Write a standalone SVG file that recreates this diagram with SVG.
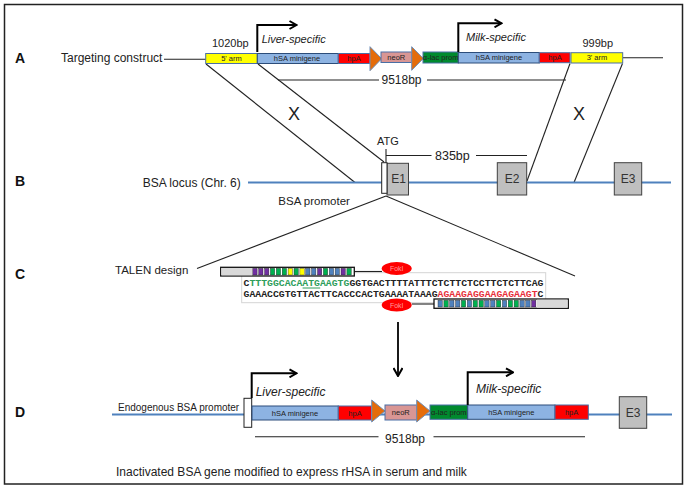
<svg xmlns="http://www.w3.org/2000/svg" width="686" height="490" viewBox="0 0 686 490">
<defs>
<marker id="chev" viewBox="0 0 10 10" refX="9" refY="5" markerWidth="10" markerHeight="10" markerUnits="userSpaceOnUse" orient="auto">
<path d="M2,1 L9,5 L2,9" fill="none" stroke="#000" stroke-width="2"/>
</marker>
<marker id="down" viewBox="0 0 10 10" refX="9" refY="5" markerWidth="10" markerHeight="10" markerUnits="userSpaceOnUse" orient="auto">
<path d="M1,0.5 L9,5 L1,9.5" fill="none" stroke="#000" stroke-width="2"/>
</marker>
<style>
text{font-family:"Liberation Sans",Arial,sans-serif;fill:#222}
.lab{font-size:14px;font-weight:bold;fill:#111}
.t12{font-size:12px}
.t11{font-size:11px}
.it{font-style:italic}
.bx{stroke:#4a6fa5;stroke-width:1}
.arm{fill:#ffff00}
.hsa{fill:#8db3e2;stroke:#2c4d7a}
.hpa{fill:#ff0000}
.neo{fill:#d99694}
.lac{fill:#008a2e}
.tri{fill:#e46c0a;stroke:#6f8fb8;stroke-width:1}
.bt{font-size:7.5px;text-anchor:middle}
.ex{fill:#bfbfbf;stroke:#404040;stroke-width:1}
.exl{font-size:12px;text-anchor:middle;fill:#333}
.locus{stroke:#4f81bd;stroke-width:2.2;fill:none}
.ln{stroke:#222;stroke-width:1.1;fill:none}
.prom{fill:#fff;stroke:#222;stroke-width:1}
.bend{stroke:#000;stroke-width:2;fill:none;marker-end:url(#chev)}
.seq{font-family:"Liberation Mono","Courier New",monospace;font-size:9.8px;font-weight:bold;fill:#222}
.fok{fill:#ff0000}
.fokt{font-size:7px;text-anchor:middle;fill:#ff9c9c}
.P{fill:#7030a0}.G{fill:#00b050}.Y{fill:#ffff00}.B{fill:#4f81bd}
.seg rect{stroke:#222;stroke-width:0.4}
</style>
</defs>
<rect x="4.5" y="4.5" width="678" height="479.5" fill="#fff" stroke="#222" stroke-width="1.5"/>

<!-- row labels -->
<g id="labels">
<text class="lab" x="15" y="62.5">A</text>
<text class="lab" x="15" y="186">B</text>
<text class="lab" x="15" y="279">C</text>
<text class="lab" x="15" y="417">D</text>
</g>

<!-- connectors -->
<g id="connectors">
<path class="ln" d="M164,59.3 H206"/>
<path class="ln" d="M623,57.7 H663"/>
<path class="ln" d="M206,64 L355,182.5"/>
<path class="ln" d="M258,64 L384,162"/>
<path class="ln" d="M570,63.5 L527,181"/>
<path class="ln" d="M622.5,63.5 L574,182.5"/>
<path class="ln" d="M278,80 H379 M427,80 H566"/>
<path class="ln" d="M386,155.5 H431.5 M476,155.5 H527"/>
<path class="ln" d="M386,149 V163"/>
<path class="ln" d="M386,196 L197,268.5"/>
<path class="ln" d="M386,196 L575,276"/>
<path class="ln" d="M255,436.7 H378.5 M433.5,436.7 H585"/>
<path d="M398,322 V376" stroke="#000" stroke-width="1.8" fill="none" marker-end="url(#down)"/>
</g>

<!-- Row A: targeting construct -->
<g id="targeting-construct">
<text class="t12" x="61" y="62">Targeting construct</text>
<text class="t11" x="212" y="47.3">1020bp</text>
<text class="t11" x="582.5" y="47.3">999bp</text>
<text class="t12" x="381.5" y="84">9518bp</text>
<rect class="bx arm" x="205.7" y="53.5" width="51.6" height="10"/>
<text class="bt" x="231.5" y="61" fill="#7f6000">5' arm</text>
<rect class="bx hsa" x="257.3" y="53.5" width="81" height="10"/>
<text class="bt" x="297" y="61" fill="#1f3864">hSA minigene</text>
<rect class="bx hpa" x="338.3" y="53.5" width="31.7" height="10"/>
<text class="bt" x="354" y="61" fill="#a00000">hpA</text>
<polygon class="tri" points="370,46.7 381.7,58.7 370,70.7"/>
<rect class="bx neo" x="381" y="52" width="30.7" height="10.5"/>
<text class="bt" x="396.3" y="59.8" fill="#8b2d2b">neoR</text>
<polygon class="tri" points="411.7,46.7 423.3,58.5 411.7,70.3"/>
<rect class="bx lac" x="423" y="52" width="35.3" height="11"/>
<text class="bt" x="440.6" y="60" fill="#0d3a10">α-lac prom</text>
<rect class="bx hsa" x="458.3" y="52.5" width="81" height="10.5"/>
<text class="bt" x="499" y="60.3" fill="#1f3864">hSA minigene</text>
<rect class="bx hpa" x="539.3" y="52.7" width="30.7" height="10"/>
<text class="bt" x="555" y="60.3" fill="#a00000">hpA</text>
<rect class="bx arm" x="571" y="52.7" width="51.7" height="10.3"/>
<text class="bt" x="597" y="60.3" fill="#7f6000">3' arm</text>
<path class="bend" d="M257.3,52 V25 H296.5"/>
<text class="t11 it" x="261.7" y="43">Liver-specific</text>
<path class="bend" d="M458.3,52 V23.3 H501.5"/>
<text class="t11 it" x="466" y="40.5">Milk-specific</text>
</g>

<g id="crossover-marks">
<text x="294" y="119.5" font-size="18" text-anchor="middle">X</text>
<text x="579" y="119.5" font-size="18" text-anchor="middle">X</text>
</g>

<!-- Row B: BSA locus -->
<g id="bsa-locus">
<text class="t12" x="142.7" y="186.5">BSA locus (Chr. 6)</text>
<path class="locus" d="M248,182.5 H671"/>
<text x="278.3" y="204.5" font-size="11.5">BSA promoter</text>
<text class="t11" x="377" y="144.7">ATG</text>
<text x="435" y="160" font-size="12.5">835bp</text>
</g>
<g id="E1">
<rect class="ex" x="387" y="163.3" width="21.5" height="31.7"/>
<text class="exl" x="398.5" y="183.3">E1</text>
</g>
<g id="bsa-promoter-B">
<rect class="prom" x="381.7" y="162.7" width="5.3" height="30.6"/>
</g>
<g id="E2">
<rect class="ex" x="497.3" y="162.7" width="29.4" height="32.3"/>
<text class="exl" x="512" y="183.3">E2</text>
</g>
<g id="E3">
<rect class="ex" x="614.3" y="162.7" width="27.4" height="32.3"/>
<text class="exl" x="628" y="183.3">E3</text>
</g>

<!-- Row C: TALEN design -->
<g id="talen-design">
<text x="115" y="273.5" font-size="11.5">TALEN design</text>
<rect x="241.7" y="272.7" width="304" height="30" fill="#fff" stroke="#d4d4d4" stroke-width="1"/>
<text class="seq" x="243.5" y="285.5" textLength="300" lengthAdjust="spacingAndGlyphs">C<tspan fill="#2e9e5b">TTTGGCACAATGAAGTG</tspan>GGTGACTTTTATTTCTCTTCTCCTTCTCTTCAG</text>
<path d="M302.6,288 H320.2" stroke="#2e9e5b" stroke-width="1"/>
<text class="seq" x="243.5" y="296.8" textLength="300" lengthAdjust="spacingAndGlyphs">GAAACCGTGTTACTTCACCCACTGAAAATAAAG<tspan fill="#e8303a">AGAAGAGGAAGAGAAGT</tspan>C</text>
</g>
<g id="talen-left">
<path class="ln" d="M354,271.5 H382"/>
<rect x="220.7" y="267.3" width="133.6" height="8.7" fill="#fff" stroke="#111" stroke-width="1.3"/>
<rect x="221.3" y="268" width="30.7" height="7.3" fill="#d9d9d9"/>
<g class="seg">
<rect class="P" x="252.8" y="268.3" width="4.3" height="6.7"/>
<rect class="P" x="258.7" y="268.3" width="4.3" height="6.7"/>
<rect class="P" x="264.6" y="268.3" width="4.3" height="6.7"/>
<rect class="G" x="270.4" y="268.3" width="4.3" height="6.7"/>
<rect class="G" x="276.3" y="268.3" width="4.3" height="6.7"/>
<rect class="G" x="282.2" y="268.3" width="4.3" height="6.7"/>
<rect class="Y" x="288.1" y="268.3" width="4.3" height="6.7"/>
<rect class="G" x="294" y="268.3" width="4.3" height="6.7"/>
<rect class="Y" x="299.9" y="268.3" width="4.3" height="6.7"/>
<rect class="B" x="305.7" y="268.3" width="4.3" height="6.7"/>
<rect class="B" x="311.6" y="268.3" width="4.3" height="6.7"/>
<rect class="P" x="317.5" y="268.3" width="4.3" height="6.7"/>
<rect class="G" x="323.4" y="268.3" width="4.3" height="6.7"/>
<rect class="B" x="329.3" y="268.3" width="4.3" height="6.7"/>
<rect class="B" x="335.1" y="268.3" width="4.3" height="6.7"/>
<rect class="P" x="341" y="268.3" width="4.3" height="6.7"/>
<rect class="G" x="346.9" y="268.3" width="4.3" height="6.7"/>
</g>
<ellipse class="fok" cx="396.7" cy="268.5" rx="15" ry="6.5"/>
<text class="fokt" x="396.7" y="271">FokI</text>
</g>
<g id="talen-right">
<path class="ln" d="M412,304 H434"/>
<rect x="434" y="299" width="134.3" height="9.3" fill="#fff" stroke="#111" stroke-width="1.3"/>
<rect x="537" y="299.7" width="30.6" height="8" fill="#d9d9d9"/>
<g class="seg">
<rect class="B" x="438" y="300.3" width="4.3" height="6.7"/>
<rect class="G" x="443.9" y="300.3" width="4.3" height="6.7"/>
<rect class="B" x="449.7" y="300.3" width="4.3" height="6.7"/>
<rect class="B" x="455.6" y="300.3" width="4.3" height="6.7"/>
<rect class="G" x="461.4" y="300.3" width="4.3" height="6.7"/>
<rect class="B" x="467.3" y="300.3" width="4.3" height="6.7"/>
<rect class="G" x="473.1" y="300.3" width="4.3" height="6.7"/>
<rect class="G" x="479" y="300.3" width="4.3" height="6.7"/>
<rect class="B" x="484.8" y="300.3" width="4.3" height="6.7"/>
<rect class="B" x="490.7" y="300.3" width="4.3" height="6.7"/>
<rect class="G" x="496.5" y="300.3" width="4.3" height="6.7"/>
<rect class="B" x="502.4" y="300.3" width="4.3" height="6.7"/>
<rect class="G" x="508.2" y="300.3" width="4.3" height="6.7"/>
<rect class="G" x="514.1" y="300.3" width="4.3" height="6.7"/>
<rect class="B" x="519.9" y="300.3" width="4.3" height="6.7"/>
<rect class="B" x="525.8" y="300.3" width="4.3" height="6.7"/>
<rect class="P" x="531.6" y="300.3" width="4.3" height="6.7"/>
</g>
<ellipse class="fok" cx="396.7" cy="305" rx="15" ry="6.5"/>
<text class="fokt" x="396.7" y="307.5">FokI</text>
</g>

<!-- Row D: modified locus -->
<g id="modified-locus">
<path class="locus" d="M112,414.5 H672"/>
<text x="118" y="411" font-size="10">Endogenous BSA promoter</text>
<rect class="prom" x="244" y="398.3" width="7.7" height="29"/>
<rect class="bx hsa" x="252" y="406" width="86.3" height="14"/>
<text class="bt" x="295" y="415.5" fill="#1f3864">hSA minigene</text>
<rect class="bx hpa" x="338.3" y="406" width="33.4" height="14"/>
<text class="bt" x="355" y="415.5" fill="#a00000">hpA</text>
<polygon class="tri" points="371.7,400 385,411 371.7,422"/>
<rect class="bx neo" x="385" y="405" width="31.7" height="15"/>
<text class="bt" x="400.8" y="414.5" fill="#8b2d2b">neoR</text>
<polygon class="tri" points="416.7,400 430,411 416.7,422"/>
<rect class="bx lac" x="430" y="405" width="37.7" height="14.3"/>
<text class="bt" x="448.8" y="414.5" fill="#0d3a10">α-lac prom</text>
<rect class="bx hsa" x="467.7" y="405" width="87.3" height="14.3"/>
<text class="bt" x="511.3" y="414.5" fill="#1f3864">hSA minigene</text>
<rect class="bx hpa" x="555" y="405" width="33.3" height="14.3"/>
<text class="bt" x="571.6" y="414.5" fill="#a00000">hpA</text>
<path class="bend" d="M251.7,398 V373.3 H296.5"/>
<text class="t12 it" x="255.7" y="395.5">Liver-specific</text>
<path class="bend" d="M467.7,405 V372.3 H513"/>
<text class="t12 it" x="476" y="392.7">Milk-specific</text>
<text class="t12" x="385" y="442.5">9518bp</text>
</g>
<g id="E3-D">
<rect class="ex" x="619.3" y="396.7" width="27.4" height="31.6"/>
<text class="exl" x="633" y="416.8">E3</text>
</g>

<g id="caption">
<text class="t12" x="116" y="476">Inactivated BSA gene modified to express rHSA in serum and milk</text>
</g>
</svg>
